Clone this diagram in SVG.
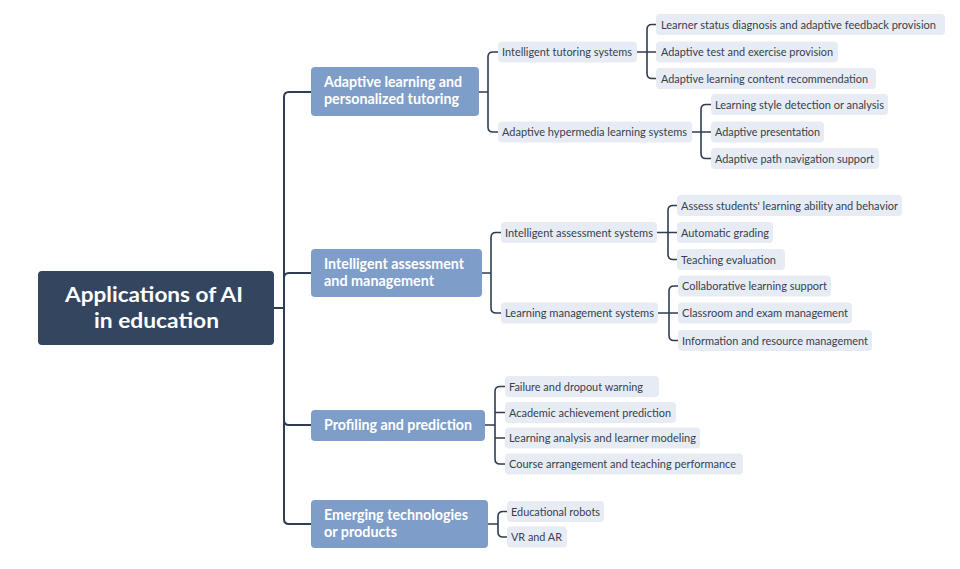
<svg xmlns="http://www.w3.org/2000/svg" width="960" height="569" viewBox="0 0 960 569">
<style>
.bg{fill:#ffffff}
.root rect{fill:#344560}
.root text{fill:#ffffff;font-family:Lato,"Noto Sans",sans-serif;font-weight:bold;font-size:21px}
.l1 rect{fill:#7f9dc9}
.l1 text{fill:#ffffff;font-family:Lato,"Noto Sans",sans-serif;font-weight:bold;font-size:14.5px}
.leaf rect{fill:#e7ecf4}
.leaf text{fill:#36404f;font-family:Lato,"Noto Sans",sans-serif;font-size:11.5px}
.c1{fill:none;stroke:#2f3d52;stroke-width:2}
.c2{fill:none;stroke:#2f3d52;stroke-width:1.6}
</style>
<rect class="bg" width="960" height="569"/>
<g id="connectors">
<path class="c1" d="M274,308 H284"/>
<path class="c1" d="M284,308 V97 Q284,92 289,92 H311"/>
<path class="c1" d="M284,308 V278 Q284,273 289,273 H311"/>
<path class="c1" d="M284,308 V420 Q284,425 289,425 H311"/>
<path class="c1" d="M284,308 V519 Q284,524 289,524 H311"/>
<path class="c2" d="M479,92 H488 M488,92 V57 Q488,52 493,52 H498 M488,92 V127 Q488,132 493,132 H498"/>
<path class="c2" d="M637,52 H656 M647,52 V29.5 Q647,24.5 652,24.5 H656 M647,52 V73.5 Q647,78.5 652,78.5 H656"/>
<path class="c2" d="M692,132 H711 M701,132 V109.5 Q701,104.5 706,104.5 H711 M701,132 V153.5 Q701,158.5 706,158.5 H711"/>
<path class="c2" d="M482,273 H491 M491,273 V237.5 Q491,232.5 496,232.5 H501 M491,273 V308 Q491,313 496,313 H501"/>
<path class="c2" d="M657,232.5 H677 M668,232.5 V210.5 Q668,205.5 673,205.5 H677 M668,232.5 V254.5 Q668,259.5 673,259.5 H677"/>
<path class="c2" d="M658,313 H678 M669,313 V291 Q669,286 674,286 H678 M669,313 V335.5 Q669,340.5 674,340.5 H678"/>
<path class="c2" d="M485,425 H495 M495,425 V391.5 Q495,386.5 500,386.5 H505 M495,412.5 H505 M495,438 H505 M495,425 V459 Q495,464 500,464 H505"/>
<path class="c2" d="M488,524 H498 M498,524 V516.5 Q498,511.5 503,511.5 H507 M498,524 V532 Q498,537 503,537 H507"/>
</g>
<g id="root" class="root">
<rect x="38" y="271" width="236" height="74" rx="4"/>
<text x="65" y="302" textLength="178" lengthAdjust="spacingAndGlyphs">Applications of AI</text>
<text x="94" y="328" textLength="125" lengthAdjust="spacingAndGlyphs">in education</text>
</g>
<g id="n-adaptive" class="l1">
<rect x="311" y="67" width="168" height="49" rx="4"/>
<text x="324" y="87" textLength="138" lengthAdjust="spacingAndGlyphs">Adaptive learning and</text>
<text x="324" y="104" textLength="135" lengthAdjust="spacingAndGlyphs">personalized tutoring</text>
</g>
<g id="n-assessment" class="l1">
<rect x="311" y="249" width="171" height="48" rx="4"/>
<text x="324" y="269" textLength="140" lengthAdjust="spacingAndGlyphs">Intelligent assessment</text>
<text x="324" y="286" textLength="110" lengthAdjust="spacingAndGlyphs">and management</text>
</g>
<g id="n-profiling" class="l1">
<rect x="311" y="410" width="174" height="31" rx="4"/>
<text x="324" y="430" textLength="148" lengthAdjust="spacingAndGlyphs">Profiling and prediction</text>
</g>
<g id="n-emerging" class="l1">
<rect x="311" y="500" width="177" height="48" rx="4"/>
<text x="324" y="520" textLength="144" lengthAdjust="spacingAndGlyphs">Emerging technologies</text>
<text x="324" y="537" textLength="73" lengthAdjust="spacingAndGlyphs">or products</text>
</g>
<g id="n-its" class="leaf"><rect x="498" y="41.5" width="139" height="21" rx="4"/><text x="502" y="56" textLength="130" lengthAdjust="spacingAndGlyphs">Intelligent tutoring systems</text></g>
<g id="n-ahls" class="leaf"><rect x="498" y="121.5" width="194" height="21" rx="4"/><text x="502" y="136" textLength="185" lengthAdjust="spacingAndGlyphs">Adaptive hypermedia learning systems</text></g>
<g id="n-l1" class="leaf"><rect x="656" y="14" width="289" height="21" rx="4"/><text x="661" y="28.5" textLength="275" lengthAdjust="spacingAndGlyphs">Learner status diagnosis and adaptive feedback provision</text></g>
<g id="n-l2" class="leaf"><rect x="656" y="41.5" width="182" height="21" rx="4"/><text x="661" y="56" textLength="172" lengthAdjust="spacingAndGlyphs">Adaptive test and exercise provision</text></g>
<g id="n-l3" class="leaf"><rect x="656" y="68" width="220" height="21" rx="4"/><text x="661" y="82.5" textLength="207" lengthAdjust="spacingAndGlyphs">Adaptive learning content recommendation</text></g>
<g id="n-l4" class="leaf"><rect x="711" y="94" width="177" height="21" rx="4"/><text x="715" y="108.5" textLength="169" lengthAdjust="spacingAndGlyphs">Learning style detection or analysis</text></g>
<g id="n-l5" class="leaf"><rect x="711" y="121.5" width="113" height="21" rx="4"/><text x="715" y="136" textLength="105" lengthAdjust="spacingAndGlyphs">Adaptive presentation</text></g>
<g id="n-l6" class="leaf"><rect x="711" y="148" width="168" height="21" rx="4"/><text x="715" y="162.5" textLength="159" lengthAdjust="spacingAndGlyphs">Adaptive path navigation support</text></g>
<g id="n-ias" class="leaf"><rect x="501" y="222" width="156" height="21" rx="4"/><text x="505" y="236.5" textLength="148" lengthAdjust="spacingAndGlyphs">Intelligent assessment systems</text></g>
<g id="n-lms" class="leaf"><rect x="501" y="302.5" width="157" height="21" rx="4"/><text x="505" y="317" textLength="149" lengthAdjust="spacingAndGlyphs">Learning management systems</text></g>
<g id="n-l7" class="leaf"><rect x="677" y="195" width="225" height="21" rx="4"/><text x="681" y="209.5" textLength="217" lengthAdjust="spacingAndGlyphs">Assess students' learning ability and behavior</text></g>
<g id="n-l8" class="leaf"><rect x="677" y="222" width="96" height="21" rx="4"/><text x="681" y="236.5" textLength="88" lengthAdjust="spacingAndGlyphs">Automatic grading</text></g>
<g id="n-l9" class="leaf"><rect x="677" y="249" width="108" height="21" rx="4"/><text x="681" y="263.5" textLength="95" lengthAdjust="spacingAndGlyphs">Teaching evaluation</text></g>
<g id="n-l10" class="leaf"><rect x="678" y="275.5" width="153" height="21" rx="4"/><text x="682" y="290" textLength="145" lengthAdjust="spacingAndGlyphs">Collaborative learning support</text></g>
<g id="n-l11" class="leaf"><rect x="678" y="302.5" width="174" height="21" rx="4"/><text x="682" y="317" textLength="166" lengthAdjust="spacingAndGlyphs">Classroom and exam management</text></g>
<g id="n-l12" class="leaf"><rect x="678" y="330" width="194" height="21" rx="4"/><text x="682" y="344.5" textLength="186" lengthAdjust="spacingAndGlyphs">Information and resource management</text></g>
<g id="n-l13" class="leaf"><rect x="505" y="376" width="154" height="21" rx="4"/><text x="509" y="390.5" textLength="134" lengthAdjust="spacingAndGlyphs">Failure and dropout warning</text></g>
<g id="n-l14" class="leaf"><rect x="505" y="402" width="171" height="21" rx="4"/><text x="509" y="416.5" textLength="162" lengthAdjust="spacingAndGlyphs">Academic achievement prediction</text></g>
<g id="n-l15" class="leaf"><rect x="505" y="427.5" width="195" height="21" rx="4"/><text x="509" y="442" textLength="187" lengthAdjust="spacingAndGlyphs">Learning analysis and learner modeling</text></g>
<g id="n-l16" class="leaf"><rect x="505" y="453.5" width="238" height="21" rx="4"/><text x="509" y="468" textLength="227" lengthAdjust="spacingAndGlyphs">Course arrangement and teaching performance</text></g>
<g id="n-l17" class="leaf"><rect x="507" y="501" width="97" height="21" rx="4"/><text x="511" y="515.5" textLength="89" lengthAdjust="spacingAndGlyphs">Educational robots</text></g>
<g id="n-l18" class="leaf"><rect x="507" y="526.5" width="60" height="21" rx="4"/><text x="511" y="541" textLength="51" lengthAdjust="spacingAndGlyphs">VR and AR</text></g>
</svg>
